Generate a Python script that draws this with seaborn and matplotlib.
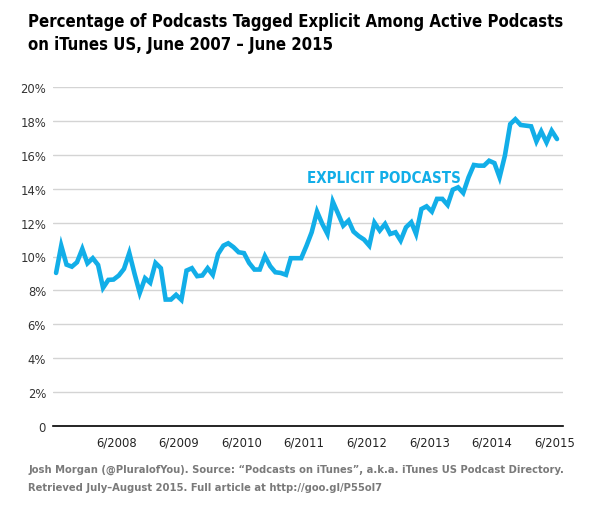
import numpy as np
import pandas as pd
import matplotlib
matplotlib.use("Agg")
import matplotlib.pyplot as plt
import seaborn as sns

# Porcentaje mensual de podcasts "explicit", junio 2007 - junio 2015
explicit_pct = [
    9.03, 10.64, 9.52, 9.40, 9.66, 10.45, 9.60, 9.90, 9.50, 8.15, 8.62, 8.64,
    8.88, 9.27, 10.21, 8.97, 7.85, 8.72, 8.45, 9.62, 9.31, 7.46, 7.46, 7.74,
    7.44, 9.17, 9.31, 8.84, 8.88, 9.31, 8.92, 10.15, 10.64, 10.78, 10.55, 10.25,
    10.20, 9.62, 9.23, 9.23, 10.02, 9.43, 9.07, 9.03, 8.92, 9.90, 9.90, 9.90,
    10.64, 11.43, 12.65, 11.92, 11.33, 13.24, 12.55, 11.82, 12.12, 11.47, 11.20, 11.00,
    10.64, 12.00, 11.53, 11.92, 11.33, 11.43, 10.94, 11.72, 12.02, 11.33, 12.80, 12.96,
    12.65, 13.40, 13.40, 13.04, 13.94, 14.08, 13.75, 14.67, 15.40, 15.36, 15.36, 15.65,
    15.51, 14.67, 15.95, 17.81, 18.10, 17.76, 17.72, 17.68, 16.79, 17.38, 16.73, 17.42,
    16.93,
]
months = pd.date_range("2007-06-01", periods=len(explicit_pct), freq="MS") + pd.Timedelta(days=14)
tick_dates = pd.to_datetime([f"{y}-06-01" for y in range(2008, 2016)])
tick_labels = [f"6/{y}" for y in range(2008, 2016)]
y_ticks = list(range(0, 21, 2))
y_labels = ["0"] + [f"{v}%" for v in y_ticks[1:]]

df = pd.DataFrame({"month": months, "pct": explicit_pct})

sns.set_style("white")
plt.rcParams["font.family"] = ["DejaVu Sans"]
plt.rcParams["font.stretch"] = "condensed"

blue = "#12aee8"
fig = plt.figure(figsize=(5.9, 5.1), dpi=100)
ax = fig.add_axes([53 / 590, 1 - 427 / 510, (563 - 53) / 590, (427 - 88) / 510])

sns.lineplot(data=df, x="month", y="pct", ax=ax, color=blue, linewidth=3.3,
             solid_joinstyle="miter")

ax.set_ylim(0, 20)
ax.set_xlim(pd.Timestamp("2007-05-28"), pd.Timestamp("2015-07-20"))
ax.set_yticks(y_ticks)
ax.set_yticklabels(y_labels)
ax.set_xticks(tick_dates)
ax.set_xticklabels(tick_labels)
ax.grid(axis="y", color="#d4d4d4", linewidth=1)
ax.set_axisbelow(True)
for s in ["top", "right", "left"]:
    ax.spines[s].set_visible(False)
ax.spines["bottom"].set_color("black")
ax.spines["bottom"].set_linewidth(1.2)
ax.tick_params(axis="x", length=4, width=1, color="black", labelsize=9.3, pad=3, labelcolor="#222222")
ax.tick_params(axis="y", length=3, width=1, color="#d4d4d4", labelsize=9.3, pad=2, labelcolor="#333333")
ax.set_xlabel("")
ax.set_ylabel("")

ax.text(pd.Timestamp("2011-06-20"), 14.65, "EXPLICIT PODCASTS", color=blue,
        fontsize=10.8, fontweight="bold", va="center", ha="left")

fig.text(28 / 590, 1 - 22 / 510, "Percentage of Podcasts Tagged Explicit Among Active Podcasts",
         fontsize=12, fontweight="bold", va="center", ha="left", color="black")
fig.text(28 / 590, 1 - 45 / 510, "on iTunes US, June 2007 \u2013 June 2015",
         fontsize=12, fontweight="bold", va="center", ha="left", color="black")

fig.text(28 / 590, 1 - 470 / 510,
         "Josh Morgan (@PluralofYou). Source: \u201cPodcasts on iTunes\u201d, a.k.a. iTunes US Podcast Directory.",
         fontsize=8.0, fontweight="bold", va="center", ha="left", color="#7a7a7a")
fig.text(28 / 590, 1 - 488 / 510,
         "Retrieved July\u2013August 2015. Full article at http://goo.gl/P55ol7",
         fontsize=8.0, fontweight="bold", va="center", ha="left", color="#7a7a7a")

fig.savefig("out.png", dpi=100)
plt.close(fig)
